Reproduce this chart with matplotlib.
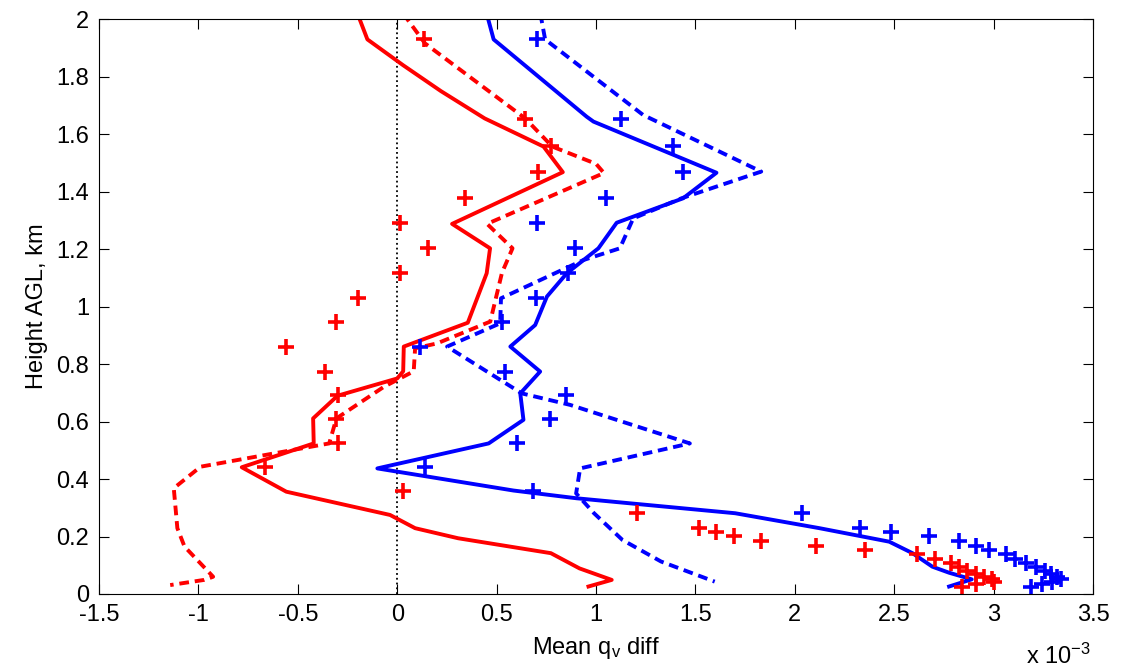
import numpy as np
from matplotlib import pyplot as plt

plt.rcParams['font.family'] = ['Liberation Sans', 'DejaVu Sans']
plt.rcParams['mathtext.default'] = 'regular'

# observation-level crosses (x in units of 1e-3)
h_obs = [1.93, 1.653, 1.56, 1.47, 1.379, 1.292, 1.203, 1.116, 1.031, 0.945,
         0.858, 0.774, 0.693, 0.609, 0.524, 0.443, 0.358, 0.281, 0.231, 0.217,
         0.202, 0.186, 0.168, 0.152, 0.138, 0.121, 0.108, 0.095, 0.081, 0.068,
         0.060, 0.051, 0.043, 0.035, 0.026]
red_obs = [0.134, 0.644, 0.773, 0.71, 0.343, 0.013, 0.154, 0.013, -0.196, -0.31,
           -0.561, -0.364, -0.30, -0.309, -0.297, -0.665, 0.027, 1.204, 1.518, 1.606,
           1.692, 1.831, 2.107, 2.355, 2.617, 2.706, 2.785, 2.827, 2.868, 2.91,
           2.952, 2.99, 3.0, 2.91, 2.843]
blue_obs = [0.702, 1.124, 1.385, 1.438, 1.05, 0.702, 0.895, 0.861, 0.699, 0.527,
            0.117, 0.543, 0.85, 0.769, 0.602, 0.142, 0.682, 2.037, 2.33, 2.484,
            2.676, 2.826, 2.91, 2.977, 3.06, 3.11, 3.161, 3.211, 3.261, 3.29,
            3.32, 3.337, 3.295, 3.244, 3.186]

# red solid
h_rs = [2.02, 1.93, 1.84, 1.75, 1.655, 1.557, 1.468, 1.288, 1.203, 1.116, 0.944,
        0.861, 0.775, 0.75, 0.69, 0.611, 0.524, 0.441, 0.356, 0.275, 0.229, 0.194,
        0.142, 0.089, 0.049, 0.026]
x_rs = [-0.2, -0.15, 0.03, 0.22, 0.44, 0.736, 0.833, 0.276, 0.467, 0.45, 0.355,
        0.033, 0.03, 0.0, -0.3, -0.423, -0.42, -0.782, -0.558, -0.036, 0.09, 0.306,
        0.773, 0.917, 1.079, 0.962]

# red dashed
h_rd = [2.02, 1.916, 1.655, 1.557, 1.497, 1.465, 1.288, 1.203, 1.118, 0.948, 0.872,
        0.855, 0.775, 0.721, 0.611, 0.524, 0.443, 0.368, 0.229, 0.165, 0.06, 0.049,
        0.031]
x_rd = [0.03, 0.14, 0.644, 0.78, 1.0, 1.04, 0.452, 0.58, 0.527, 0.468, 0.2,
        0.09, 0.083, -0.067, -0.306, -0.342, -0.989, -1.124, -1.106, -1.07, -0.926,
        -0.971, -1.142]

# blue solid
h_bs = [2.02, 1.93, 1.661, 1.644, 1.466, 1.377, 1.292, 1.203, 1.116, 1.035, 0.936,
        0.861, 0.774, 0.698, 0.606, 0.524, 0.437, 0.36, 0.333, 0.281, 0.229, 0.182,
        0.142, 0.095, 0.074, 0.051, 0.026]
x_bs = [0.45, 0.485, 0.953, 0.987, 1.606, 1.438, 1.104, 1.012, 0.853, 0.753, 0.694,
        0.569, 0.719, 0.619, 0.635, 0.46, -0.1, 0.585, 0.903, 1.70, 2.124, 2.475,
        2.592, 2.692, 2.776, 2.89, 2.776]

# blue dashed
h_bd = [2.02, 1.93, 1.667, 1.47, 1.377, 1.307, 1.203, 1.162, 1.029, 0.942, 0.861,
        0.698, 0.658, 0.524, 0.437, 0.35, 0.281, 0.188, 0.113, 0.043]
x_bd = [0.72, 0.744, 1.237, 1.831, 1.43, 1.187, 1.12, 0.936, 0.522, 0.518, 0.251,
        0.627, 0.87, 1.472, 0.92, 0.9, 0.99, 1.133, 1.327, 1.597]

fig = plt.figure(figsize=(11.33, 6.72), dpi=100)
ax = fig.add_axes([0.0874, 0.1161, 0.8773, 0.8552])

lw = 2.8
dash = (0, (2.5, 1.5))
ax.plot([0, 0], [0, 2], 'k:', lw=1.3)
ax.plot(x_rs, h_rs, color='r', lw=lw)
ax.plot(x_rd, h_rd, color='r', lw=lw, linestyle=dash)
ax.plot(x_bs, h_bs, color='b', lw=lw)
ax.plot(x_bd, h_bd, color='b', lw=lw, linestyle=dash)
ax.plot(red_obs, h_obs, '+', color='r', ms=11, mew=2.6)
ax.plot(blue_obs, h_obs, '+', color='b', ms=11, mew=2.6)

ax.set_xlim(-1.5, 3.5)
ax.set_ylim(0, 2)
ax.set_xticks(np.arange(-1.5, 3.51, 0.5))
ax.set_xticklabels(['-1.5', '-1', '-0.5', '0', '0.5', '1', '1.5', '2', '2.5', '3', '3.5'])
ax.set_yticks(np.arange(0, 2.01, 0.2))
ax.set_yticklabels(['0', '0.2', '0.4', '0.6', '0.8', '1', '1.2', '1.4', '1.6', '1.8', '2'])
ax.tick_params(direction='in', length=7, width=0.8, top=True, right=True,
               labelsize=17)
ax.tick_params(axis='x', pad=7)
ax.tick_params(axis='y', pad=7)
for s in ax.spines.values():
    s.set_linewidth(0.8)

ax.set_xlabel('Mean q$_v$ diff', fontsize=17, labelpad=7)
ax.set_ylabel('Height AGL, km', fontsize=17, labelpad=6)
fig.text(0.906, 0.012, 'x 10$^{-3}$', fontsize=17)

fig.savefig('out.png', dpi=100)
